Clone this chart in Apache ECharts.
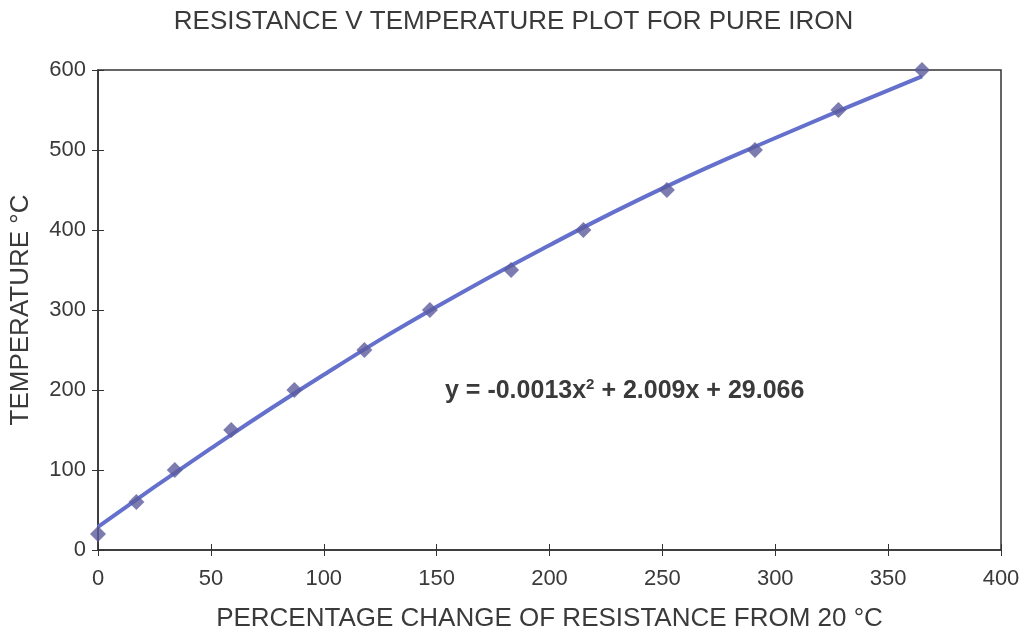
<!DOCTYPE html>
<html>
<head>
<meta charset="utf-8">
<script src="https://cdn.jsdelivr.net/npm/echarts@6/dist/echarts.min.js"></script>
<style>
  html, body { margin: 0; padding: 0; background: #fff; }
  #chart { width: 1027px; height: 636px; }
</style>
</head>
<body>
<div id="chart"></div>
<script>
// measured points: % change of resistance vs temperature
var resistChange = [0, 17, 34, 59, 87, 118, 147, 183, 215, 252, 291, 328, 365];
var temperature = [20, 60, 100, 150, 200, 250, 300, 350, 400, 450, 500, 550, 600];

// trendline
var trendX = [0, 50, 100, 150, 200, 250, 300, 365];
var trendY = [29, 127, 219, 304, 381, 452, 515, 592];

var xTicks = [0, 50, 100, 150, 200, 250, 300, 350, 400];
var yTicks = [0, 100, 200, 300, 400, 500, 600];

document.addEventListener('DOMContentLoaded', function() {
    var chart = echarts.init(document.getElementById('chart'));
    var font = 'Liberation Sans, Arial, sans-serif';
    var axisCol = '#333';
    var textCol = '#3a3a3a';

    var points = resistChange.map(function(x, i) { return [x, temperature[i]]; });
    var trend = trendX.map(function(x, i) { return [x, trendY[i]]; });

    var option = {
        backgroundColor: '#fff',
        animation: false,
        title: {
            text: 'RESISTANCE V TEMPERATURE PLOT FOR PURE IRON',
            left: 'center',
            top: 4,
            textStyle: { fontFamily: font, fontSize: 26, fontWeight: 'normal', color: textCol }
        },
        grid: {
            left: 98, right: 26, top: 70, bottom: 86,
            outerBoundsMode: 'none',
            show: true, borderColor: axisCol, borderWidth: 1.5, backgroundColor: 'transparent'
        },
        xAxis: [{
            type: 'value', min: 0, max: 400, interval: 50,
            name: 'PERCENTAGE CHANGE OF RESISTANCE FROM 20 °C',
            nameLocation: 'middle', nameGap: 56,
            nameTextStyle: { fontFamily: font, fontSize: 26, color: textCol },
            axisLine: { show: true, lineStyle: { color: axisCol, width: 1.5 } },
            axisTick: { show: true, length: 6, lineStyle: { color: axisCol } },
            axisLabel: { fontFamily: font, fontSize: 22, color: textCol, margin: 18,
                formatter: function(v) { return xTicks.indexOf(v) >= 0 ? String(v) : ''; } },
            splitLine: { show: false }
        }, {
            type: 'value', min: 0, max: 400, interval: 50, position: 'bottom',
            axisLine: { show: false },
            axisTick: { show: true, inside: true, length: 6, lineStyle: { color: axisCol } },
            axisLabel: { show: false },
            splitLine: { show: false }
        }],
        yAxis: [{
            type: 'value', min: 0, max: 600, interval: 100,
            name: 'TEMPERATURE °C',
            nameLocation: 'middle', nameGap: 64,
            nameTextStyle: { fontFamily: font, fontSize: 26, color: textCol },
            axisLine: { show: true, lineStyle: { color: axisCol, width: 1.5 } },
            axisTick: { show: true, length: 6, lineStyle: { color: axisCol } },
            axisLabel: { fontFamily: font, fontSize: 22, color: textCol, margin: 12,
                formatter: function(v) { return yTicks.indexOf(v) >= 0 ? String(v) : ''; } },
            splitLine: { show: false }
        }, {
            type: 'value', min: 0, max: 600, interval: 100, position: 'left',
            axisLine: { show: false },
            axisTick: { show: true, inside: true, length: 6, lineStyle: { color: axisCol } },
            axisLabel: { show: false },
            splitLine: { show: false }
        }],
        series: [
            {
                name: 'Trend',
                type: 'line',
                data: trend,
                smooth: true,
                showSymbol: false,
                lineStyle: { color: '#6470cc', width: 4 },
                z: 2
            },
            {
                name: 'Measured',
                type: 'scatter',
                data: points,
                symbol: 'diamond',
                symbolSize: 16,
                itemStyle: { color: '#5b5b9e' },
                z: 3
            }
        ],
        graphic: [{
            type: 'text',
            left: 445,
            top: 377,
            style: {
                text: 'y = -0.0013x{sup|2} + 2.009x + 29.066',
                fontFamily: font,
                fontSize: 25,
                fontWeight: 'bold',
                fill: textCol,
                rich: {
                    sup: { fontSize: 15, fontWeight: 'bold', fill: textCol, verticalAlign: 'top', padding: [0, 0, 14, 0] }
                }
            }
        }]
    };

    chart.setOption(option);

    window.addEventListener('resize', function() {
        chart.resize();
    });
});
</script>
</body>
</html>
